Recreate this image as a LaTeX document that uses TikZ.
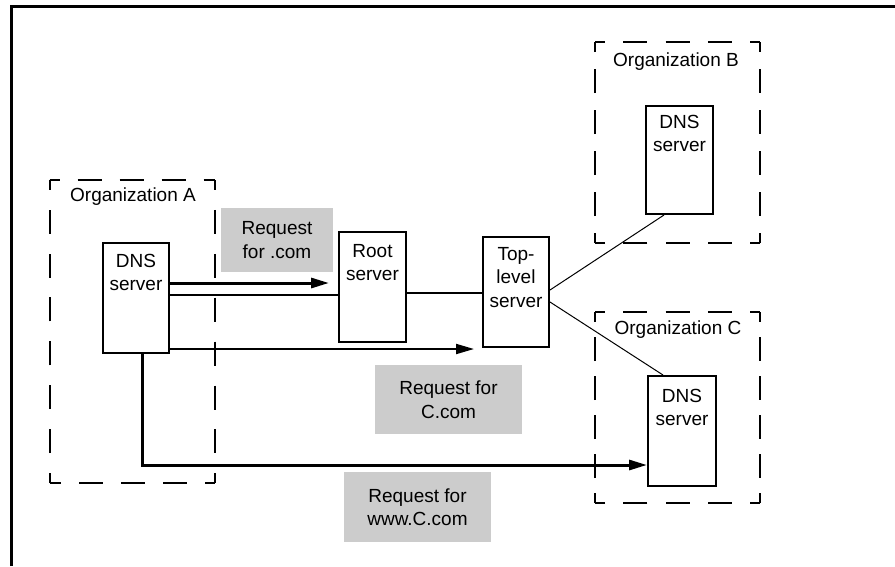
\documentclass[tikz,border=0pt]{standalone}
\usepackage{fontspec}
\setmainfont{Liberation Sans}
\usetikzlibrary{arrows.meta,calc}
\definecolor{reqgray}{HTML}{CCCCCC}
\begin{document}
\begin{tikzpicture}[x=1pt,y=-1pt,
  font=\fontsize{19}{23.5}\selectfont,
  srv/.style={draw, line width=2pt, inner sep=0pt, minimum width=66pt, minimum height=110pt},
  srvtext/.style={anchor=north, align=center, inner sep=0pt},
  req/.style={fill=reqgray, inner sep=0pt, align=center},
  orgarea/.style={inner sep=0pt, outer sep=0pt, minimum width=165pt},
  orgedge/.style={line width=2pt, dash pattern=on 24pt off #1, dash phase=14pt},
  heavy/.style={line width=3pt, -{Triangle[length=18pt,width=10pt]}},
  medium/.style={line width=2pt, -{Triangle[length=18pt,width=10pt]}},
  link/.style={line width=1.5pt},
  thinlink/.style={line width=1pt}]
\useasboundingbox (0,0) rectangle (895,566);

% outer frame: top and left edges only
\draw[line width=3pt] (11,566) -- (11,6) -- (895,6);

% organisation areas
\node[orgarea, minimum height=303pt] (orgA) at (132,331.5) {};
\node[orgarea, minimum height=201pt] (orgB) at (677.5,142.5) {};
\node[orgarea, minimum height=191pt] (orgC) at (677.5,407.5) {};

\draw[orgedge=18pt]    (orgA.north west) -- (orgA.north east);
\draw[orgedge=19.9pt]  (orgA.north east) -- (orgA.south east);
\draw[orgedge=18pt]    (orgA.south east) -- (orgA.south west);
\draw[orgedge=19.9pt]  (orgA.south west) -- (orgA.north west);

\draw[orgedge=18.25pt] (orgB.north west) -- (orgB.north east);
\draw[orgedge=17pt]    (orgB.north east) -- (orgB.south east);
\draw[orgedge=18.25pt] (orgB.south east) -- (orgB.south west);
\draw[orgedge=17pt]    (orgB.south west) -- (orgB.north west);

\draw[orgedge=18.25pt] (orgC.north west) -- (orgC.north east);
\draw[orgedge=15pt]    (orgC.north east) -- (orgC.south east);
\draw[orgedge=18.25pt] (orgC.south east) -- (orgC.south west);
\draw[orgedge=15pt]    (orgC.south west) -- (orgC.north west);

\node (orgAlabel) at (133,197) {Organization A};
\node (orgBlabel) at (676,62) {Organization B};
\node (orgClabel) at (678,330) {Organization C};

% servers
\node[srv] (dnsA) at (136,298) {};
\node[srv, minimum width=67pt] (root) at (372.5,287) {};
\node[srv] (top) at (516,292) {};
\node[srv, minimum width=67pt, minimum height=108pt] (dnsB) at (679.5,160) {};
\node[srv, minimum width=68pt] (dnsC) at (682,431) {};

\node[srvtext] (dnsAtext) at ($(dnsA.north)+(0,12)$) {DNS\\server};
\node[srvtext] (roottext) at ($(root.north)+(0,13)$) {Root\\server};
\node[srvtext] (toptext) at ($(top.north)+(0,11)$) {Top-\\level\\server};
\node[srvtext] (dnsBtext) at ($(dnsB.north)+(0,10)$) {DNS\\server};
\node[srvtext] (dnsCtext) at ($(dnsC.north)+(0,14)$) {DNS\\server};

% request labels
\node[req, minimum width=112pt, minimum height=64pt] (reqCom) at (277,240) {Request\\for .com};
\node[req, minimum width=147pt, minimum height=69pt] (reqC) at (448.5,399.5) {Request for\\C.com};
\node[req, minimum width=147pt, minimum height=70pt] (reqW) at (417.5,507) {Request for\\www.C.com};

% connectors
\coordinate (a1s) at ($(dnsA.east)+(0,-15)$);
\coordinate (l1s) at ($(dnsA.east)+(0,-3)$);
\coordinate (a2s) at ($(dnsA.south east)+(0,-5)$);
\coordinate (l2s) at ($(root.east)+(0,6)$);
\coordinate (a3s) at ($(dnsA.south)+(6,0)$);
\coordinate (a3e) at ($(dnsC.west)+(0,34)$);

\draw[heavy, shorten >=9pt] (a1s) -- (a1s -| root.west);
\draw[line width=2pt] (l1s) -- (l1s -| root.west);
\draw[link] (l2s) -- (l2s -| top.west);
\draw[medium, shorten >=8pt] (a2s) -- (a2s -| top.west);
\draw[heavy] (a3s) |- (a3e);

\draw[thinlink] ($(top.east)+(0,-2)$) -- ($(dnsB.south)+(-15.5,0)$);
\draw[thinlink] ($(top.east)+(0,10)$) -- ($(dnsC.north)+(-19,0)$);
\end{tikzpicture}
\end{document}
